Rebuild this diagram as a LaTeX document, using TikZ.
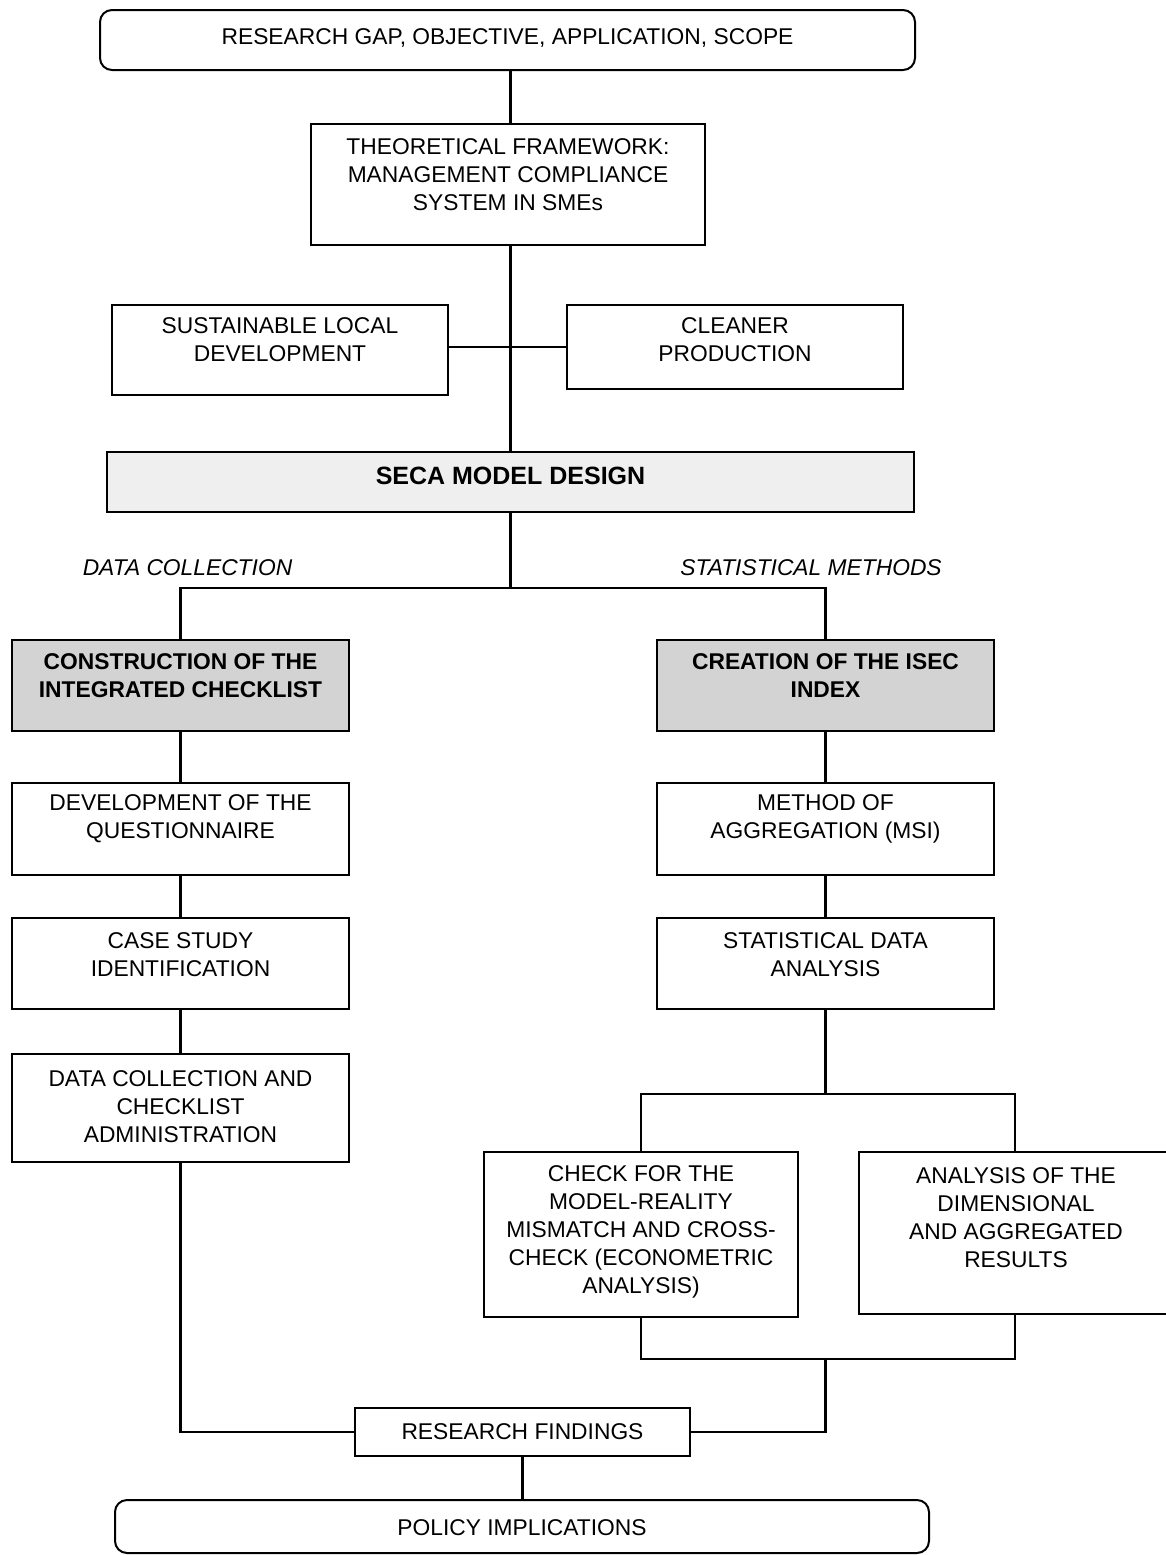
\documentclass[tikz,border=0pt]{standalone}
\usepackage{fontspec}
\setmainfont{Liberation Sans}
\usetikzlibrary{calc}
\definecolor{secagray}{HTML}{EFEFEF}
\definecolor{boldgray}{HTML}{D3D3D3}
\begin{document}
\begin{tikzpicture}[x=0.5pt,y=-0.5pt,
  box/.style={draw=black, line width=1pt, inner sep=0pt},
  rbox/.style={box, rounded corners=6pt},
  txt/.style={align=center, inner sep=0pt, font=\fontsize{11.4}{14}\selectfont, text=black},
  btxt/.style={align=center, inner sep=0pt, font=\fontsize{11.4}{14}\selectfont\bfseries},
  itxt/.style={inner sep=0pt, font=\fontsize{11.4}{14}\selectfont\itshape},
  conn/.style={draw=black, line width=1.3pt}]
\useasboundingbox (0,0) rectangle (1166,1555);
% top
\node[rbox, minimum width=407.5pt, minimum height=30pt,
  label={[txt,yshift=1pt]center:RESEARCH GAP, OBJECTIVE, APPLICATION, SCOPE}] (top) at (507.5,40) {};
\node[box, minimum width=197pt, minimum height=60.5pt,
  label={[txt,yshift=4.75pt]center:THEORETICAL FRAMEWORK:\\MANAGEMENT COMPLIANCE\\SYSTEM IN SMEs}] (theo) at (508,184.5) {};
\node[box, minimum width=168pt, minimum height=45pt,
  label={[txt,yshift=5pt]center:SUSTAINABLE LOCAL\\DEVELOPMENT}] (sus) at (280,350) {};
\node[box, minimum width=168pt, minimum height=42pt,
  label={[txt,yshift=3.5pt]center:CLEANER\\PRODUCTION}] (cln) at (735,347) {};
\node[box, fill=secagray, minimum width=403.5pt, minimum height=30pt,
  label={[btxt,yshift=3pt,font=\fontsize{12.5}{14}\selectfont\bfseries]center:SECA MODEL DESIGN}] (seca) at (510.5,482) {};
% labels
\node[itxt] (dclab) at (187.5,568) {DATA COLLECTION};
\node[itxt] (smlab) at (811,568) {STATISTICAL METHODS};
% left column
\node[box, fill=boldgray, minimum width=168.5pt, minimum height=45.5pt,
  label={[btxt,yshift=4.75pt]center:CONSTRUCTION OF THE\\INTEGRATED CHECKLIST}] (cons) at (180.5,685.5) {};
\node[box, minimum width=168.5pt, minimum height=46pt,
  label={[txt,yshift=5pt]center:DEVELOPMENT OF THE\\QUESTIONNAIRE}] (dev) at (180.5,829) {};
\node[box, minimum width=168.5pt, minimum height=45.5pt,
  label={[txt,yshift=4.25pt]center:CASE STUDY\\IDENTIFICATION}] (case) at (180.5,963.5) {};
\node[box, minimum width=168.5pt, minimum height=54pt,
  label={[txt,yshift=0.5pt]center:DATA COLLECTION AND\\CHECKLIST\\ADMINISTRATION}] (dcol) at (180.5,1108) {};
% right column
\node[box, fill=boldgray, minimum width=168.5pt, minimum height=45.5pt,
  label={[btxt,yshift=4.75pt]center:CREATION OF THE ISEC\\INDEX}] (crea) at (825.5,685.5) {};
\node[box, minimum width=168.5pt, minimum height=46pt,
  label={[txt,yshift=5pt]center:METHOD OF\\AGGREGATION (MSI)}] (meth) at (825.5,829) {};
\node[box, minimum width=168.5pt, minimum height=45.5pt,
  label={[txt,yshift=4.25pt]center:STATISTICAL DATA\\ANALYSIS}] (stat) at (825.5,963.5) {};
\node[box, minimum width=157pt, minimum height=82.5pt,
  label={[txt,yshift=1.25pt]center:CHECK FOR THE\\MODEL-REALITY\\MISMATCH AND CROSS-\\CHECK (ECONOMETRIC\\ANALYSIS)}] (check) at (641,1234.5) {};
\node[box, minimum width=156pt, minimum height=81pt,
  label={[txt,yshift=7.5pt,xshift=0.5pt]center:ANALYSIS OF THE\\DIMENSIONAL\\AND AGGREGATED\\RESULTS}] (anal) at (1015,1233) {};
% bottom
\node[box, minimum width=167.5pt, minimum height=24pt,
  label={[txt]center:RESEARCH FINDINGS}] (find) at (522.5,1432) {};
\node[rbox, minimum width=407pt, minimum height=26.5pt,
  label={[txt,yshift=-0.75pt]center:POLICY IMPLICATIONS}] (pol) at (522,1526.5) {};
% connectors
\coordinate (split) at (510.5,588);
\coordinate (rsplit) at (825.5,1094);
\coordinate (join) at (825.5,1359);
\draw[conn] (top.south -| seca.north) -- (theo.north -| seca.north);
\draw[conn] (theo.south -| seca.north) -- (seca.north);
\draw[conn] (sus.east |- cln.west) -- (cln.west);
\draw[conn] (seca.south) -- (split);
\draw[conn] (cons.north) |- (split) -| (crea.north);
\draw[conn] (cons.south) -- (dev.north);
\draw[conn] (dev.south) -- (case.north);
\draw[conn] (case.south) -- (dcol.north);
\draw[conn] (crea.south) -- (meth.north);
\draw[conn] (meth.south) -- (stat.north);
\draw[conn] (stat.south) -- (rsplit);
\draw[conn] (check.north) |- (rsplit) -| (anal.north);
\draw[conn] (check.south) |- (join) -| (anal.south);
\draw[conn] (join) |- (find.east);
\draw[conn] (dcol.south) |- (find.west);
\draw[conn] (find.south) -- (find.south |- pol.north);
\end{tikzpicture}
\end{document}
